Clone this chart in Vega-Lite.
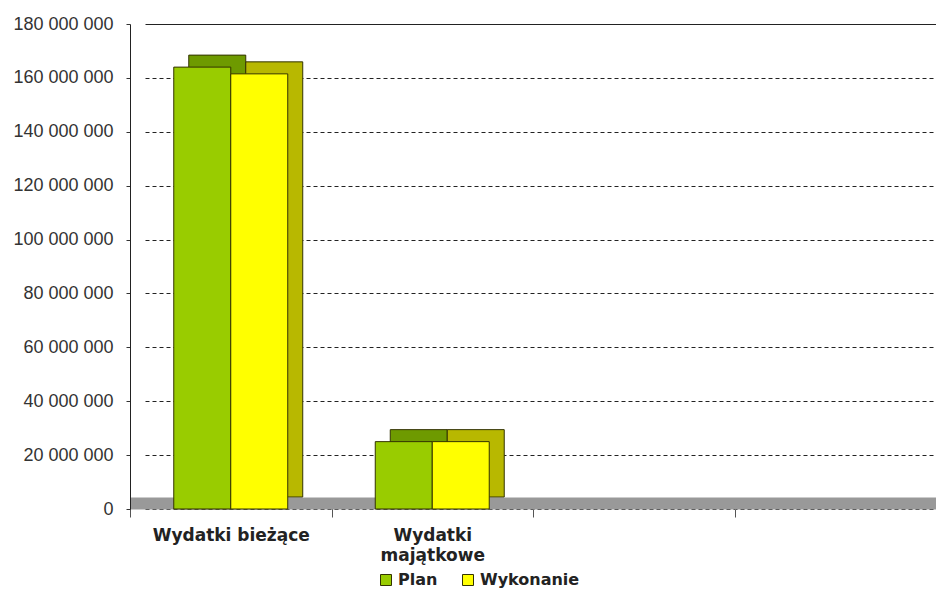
{
  "$schema": "https://vega.github.io/schema/vega-lite/v6.json",
  "width": 806,
  "height": 485,
  "autosize": {"type": "none"},
  "padding": {"left": 130, "top": 24, "right": 0, "bottom": 84},
  "background": "white",
  "config": {
    "view": {"stroke": null},
    "locale": {"number": {"decimal": ",", "thousands": " ", "grouping": [3], "currency": ["", " zł"]}}
  },
  "data": {
    "values": [
      {"kategoria": "Wydatki bieżące", "seria": "Plan", "kwota": 164000000},
      {"kategoria": "Wydatki bieżące", "seria": "Wykonanie", "kwota": 161500000},
      {"kategoria": "Wydatki majątkowe", "seria": "Plan", "kwota": 25000000},
      {"kategoria": "Wydatki majątkowe", "seria": "Wykonanie", "kwota": 25000000}
    ]
  },
  "encoding": {
    "y": {
      "field": "kwota",
      "type": "quantitative",
      "scale": {"domain": [0, 180000000], "nice": false},
      "axis": {
        "title": null,
        "values": [0, 20000000, 40000000, 60000000, 80000000, 100000000, 120000000, 140000000, 160000000, 180000000],
        "format": ",d",
        "labelFont": "Liberation Sans",
        "labelFontSize": 18,
        "labelColor": "#333333",
        "tickSize": 4,
        "tickColor": "#333333",
        "labelPadding": 13,
        "domainColor": "#222222",
        "grid": true,
        "gridColor": "#222222",
        "gridDash": {"condition": {"test": "datum.value == 180000000", "value": []}, "value": [4, 3]},
        "gridWidth": 1
      }
    }
  },
  "layer": [
    {
      "mark": {"type": "bar", "yOffset": -12, "stroke": "#333300", "strokeWidth": 1},
      "encoding": {
        "x": {
          "field": "kategoria",
          "type": "nominal",
          "sort": null,
          "scale": {"domain": ["Wydatki bieżące", "Wydatki majątkowe", "k3", "k4"], "paddingInner": 0, "paddingOuter": 0, "range": [15, 821]},
          "axis": null
        },
        "xOffset": {"field": "seria", "type": "nominal", "scale": {"domain": ["Plan", "Wykonanie"], "paddingInner": 0, "paddingOuter": 0.768}},
        "color": {"field": "seria", "type": "nominal", "scale": {"domain": ["Plan", "Wykonanie"], "range": ["#6e9a00", "#b8b800"]}, "legend": null}
      }
    },
    {
      "mark": {"type": "bar", "stroke": "#333300", "strokeWidth": 1},
      "encoding": {
        "x": {
          "field": "kategoria",
          "type": "nominal",
          "sort": null,
          "scale": {"domain": ["Wydatki bieżące", "Wydatki majątkowe", "k3", "k4"], "paddingInner": 0, "paddingOuter": 0},
          "axis": {
            "title": null,
            "labelAngle": 0,
            "labelExpr": "datum.value == 'Wydatki majątkowe' ? ['Wydatki', 'majątkowe'] : (datum.value == 'Wydatki bieżące' ? datum.value : '')",
            "labelFont": "DejaVu Sans",
            "labelFontWeight": "bold",
            "labelFontSize": 17,
            "labelColor": "#222222",
            "labelLineHeight": 20,
            "tickBand": "extent",
            "tickSize": 14,
            "tickColor": "#555555",
            "domainColor": "#999999",
            "domainWidth": 12,
            "offset": -6,
            "labelPadding": 10
          }
        },
        "xOffset": {"field": "seria", "type": "nominal", "scale": {"domain": ["Plan", "Wykonanie"], "paddingInner": 0, "paddingOuter": 0.768}},
        "color": {
          "field": "seria",
          "type": "nominal",
          "scale": {"domain": ["Plan", "Wykonanie"], "range": ["#99cc00", "#ffff00"]},
          "legend": {
            "orient": "none",
            "legendX": 248,
            "legendY": 548,
            "direction": "horizontal",
            "title": null,
            "symbolType": "square",
            "symbolSize": 121,
            "symbolStrokeColor": "#333300",
            "symbolStrokeWidth": 1,
            "labelFont": "DejaVu Sans",
            "labelFontWeight": "bold",
            "labelFontSize": 16,
            "labelColor": "#222222",
            "columnPadding": 22
          }
        }
      }
    }
  ],
  "resolve": {"scale": {"color": "independent", "x": "independent", "xOffset": "independent"}}
}
